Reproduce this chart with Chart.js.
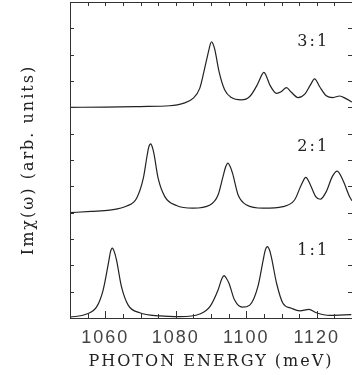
<!doctype html>
<html>
<head>
	<meta charset="utf-8">
	<title>Im chi spectra</title>
	<script src="https://cdn.jsdelivr.net/npm/chart.js@4.4.1/dist/chart.umd.min.js"></script>
	<style>
		html, body { margin: 0; padding: 0; background: #fff; }
		#wrap { width: 352px; height: 375px; }
	</style>
</head>
<body>
	<div id="wrap"><canvas id="spectra" width="352" height="375"></canvas></div>
	<script>
		// 3:1 curve (offset by 8 units)
		var e31 = [1050, 1060, 1070, 1078.3, 1082.1, 1084.9, 1086.8, 1088.2, 1089.5, 1089.8, 1090.2, 1090.6, 1091.1, 1092.3, 1093.9, 1095.8, 1098.6, 1101.0, 1103.1, 1104.5, 1105.0, 1105.5, 1106.7, 1108.6, 1110.0, 1111.4, 1112.8, 1114.7, 1116.6, 1118.2, 1119.4, 1120.8, 1122.7, 1124.6, 1126.5, 1128.4, 1130];
		var v31 = [8.00, 8.01, 8.03, 8.06, 8.15, 8.34, 8.72, 9.48, 10.24, 10.40, 10.49, 10.40, 10.18, 9.35, 8.66, 8.37, 8.28, 8.41, 8.85, 9.25, 9.33, 9.25, 8.85, 8.53, 8.60, 8.75, 8.57, 8.37, 8.50, 8.85, 9.08, 8.79, 8.44, 8.37, 8.43, 8.32, 8.20];

		// 2:1 curve (offset by 4 units)
		var e21 = [1050, 1056, 1061.3, 1066.1, 1068.9, 1070.8, 1071.9, 1072.3, 1072.9, 1073.4, 1073.8, 1075.0, 1076.9, 1080.2, 1084.9, 1089.7, 1092.0, 1093.4, 1094.2, 1094.8, 1095.4, 1096.1, 1097.7, 1100.1, 1104.8, 1110.4, 1113.7, 1115.6, 1116.9, 1118.2, 1119.7, 1121.0, 1122.7, 1124.4, 1125.8, 1127.4, 1129.3, 1130];
		var v21 = [4.00, 4.05, 4.10, 4.25, 4.55, 5.31, 6.19, 6.47, 6.61, 6.47, 6.25, 5.31, 4.61, 4.27, 4.17, 4.29, 4.67, 5.37, 5.75, 5.88, 5.76, 5.50, 4.67, 4.29, 4.17, 4.23, 4.48, 5.05, 5.34, 5.05, 4.61, 4.51, 4.80, 5.37, 5.58, 5.24, 4.61, 4.45];

		// 1:1 curve
		var e11 = [1050, 1054.7, 1057.6, 1059.4, 1060.9, 1061.5, 1062.0, 1062.6, 1063.2, 1064.6, 1066.5, 1069.8, 1075.5, 1081.2, 1086.8, 1089.7, 1092.0, 1093.1, 1093.7, 1094.3, 1095.1, 1096.7, 1098.9, 1101.0, 1103.3, 1104.8, 1105.4, 1106.0, 1106.6, 1107.1, 1108.6, 1110.4, 1112.8, 1115.2, 1117.8, 1119.9, 1123.7, 1129.8];
		var v11 = [0.03, 0.15, 0.43, 1.06, 2.08, 2.52, 2.65, 2.50, 2.20, 1.19, 0.49, 0.20, 0.08, 0.05, 0.15, 0.43, 1.06, 1.50, 1.61, 1.52, 1.32, 0.68, 0.41, 0.49, 1.19, 2.20, 2.58, 2.71, 2.58, 2.33, 1.32, 0.56, 0.37, 0.27, 0.33, 0.20, 0.10, 0.13];

		var xTickLabels = [1060, 1080, 1100, 1120];
		var xMinorTicks = [1050, 1055, 1060, 1065, 1070, 1075, 1080, 1085, 1090, 1095, 1100, 1105, 1110, 1115, 1120, 1125, 1130];
		var yTicks = [0, 1, 2, 3, 4, 5, 6, 7, 8, 9, 10, 11, 12];
		var ratioLabels = ['3:1', '2:1', '1:1'];
		var ratioLabelX = [1119, 1119, 1119];
		var ratioLabelY = [10.5, 6.5, 2.55];

		function toPoints(e, v) {
			return e.map(function (x, i) { return { x: x, y: v[i] }; });
		}

		function curve(e, v) {
			return {
				data: toPoints(e, v),
				borderColor: '#222',
				borderWidth: 1.2,
				pointRadius: 0,
				fill: false,
				cubicInterpolationMode: 'monotone'
			};
		}

		// frame with inward ticks on all four sides, plus the ratio labels
		var framePlugin = {
			id: 'frame',
			beforeDraw: function (chart) {
				// the original lettering is spaced out a little
				chart.ctx.letterSpacing = '2px';
			},
			afterDraw: function (chart) {
				var ctx = chart.ctx, a = chart.chartArea;
				var xs = chart.scales.x, ys = chart.scales.y;
				ctx.save();
				ctx.strokeStyle = '#333';
				ctx.lineWidth = 1;
				ctx.strokeRect(a.left + 0.5, a.top + 0.5, a.right - a.left, a.bottom - a.top);
				ctx.beginPath();
				xMinorTicks.forEach(function (v) {
					var px = Math.round(xs.getPixelForValue(v)) + 0.5;
					var len = xTickLabels.indexOf(v) >= 0 ? 7 : 4;
					ctx.moveTo(px, a.bottom);
					ctx.lineTo(px, a.bottom - len);
					ctx.moveTo(px, a.top);
					ctx.lineTo(px, a.top + 4);
				});
				yTicks.forEach(function (v) {
					var py = Math.round(ys.getPixelForValue(v)) + 0.5;
					ctx.moveTo(a.left, py);
					ctx.lineTo(a.left + 4, py);
					ctx.moveTo(a.right, py);
					ctx.lineTo(a.right - 4, py);
				});
				ctx.stroke();

				ctx.fillStyle = '#222';
				ctx.font = '16px "DejaVu Serif"';
				ctx.textAlign = 'center';
				ctx.textBaseline = 'middle';
				ratioLabels.forEach(function (t, i) {
					ctx.fillText(t, xs.getPixelForValue(ratioLabelX[i]), ys.getPixelForValue(ratioLabelY[i]));
				});
				ctx.restore();
			}
		};

		new Chart('spectra', {
			type: 'line',
			data: {
				datasets: [curve(e31, v31), curve(e21, v21), curve(e11, v11)]
			},
			plugins: [framePlugin],
			options: {
				responsive: false,
				animation: false,
				layout: { padding: { top: 2, right: 0, left: 0, bottom: 0 } },
				plugins: {
					legend: { display: false },
					tooltip: { enabled: false }
				},
				scales: {
					x: {
						type: 'linear',
						position: 'bottom',
						min: 1050,
						max: 1130,
						afterFit: function (s) { s.height = 57; },
						afterBuildTicks: function (s) {
							s.ticks = xTickLabels.map(function (v) { return { value: v }; });
						},
						grid: { display: false, drawTicks: false },
						border: { display: false },
						ticks: {
							autoSkip: false,
							maxRotation: 0,
							padding: 9,
							color: '#444',
							callback: function (v) { return String(v); },
							font: { family: 'Liberation Sans', size: 18, weight: 'normal' }
						},
						title: {
							display: true,
							text: 'PHOTON ENERGY (meV)',
							color: '#222',
							padding: { top: 0, bottom: 4 },
							font: { family: 'DejaVu Serif', size: 16, weight: 'normal' }
						}
					},
					y: {
						type: 'linear',
						position: 'left',
						min: 0,
						max: 12,
						afterFit: function (s) { s.width = 70; },
						grid: { display: false, drawTicks: false },
						border: { display: false },
						ticks: { display: false },
						title: {
							display: true,
							text: 'Imχ(ω) (arb. units)',
							color: '#222',
							padding: { top: 19, bottom: 0 },
							font: { family: 'DejaVu Serif', size: 16, weight: 'normal' }
						}
					}
				}
			}
		});
	</script>
</body>
</html>
